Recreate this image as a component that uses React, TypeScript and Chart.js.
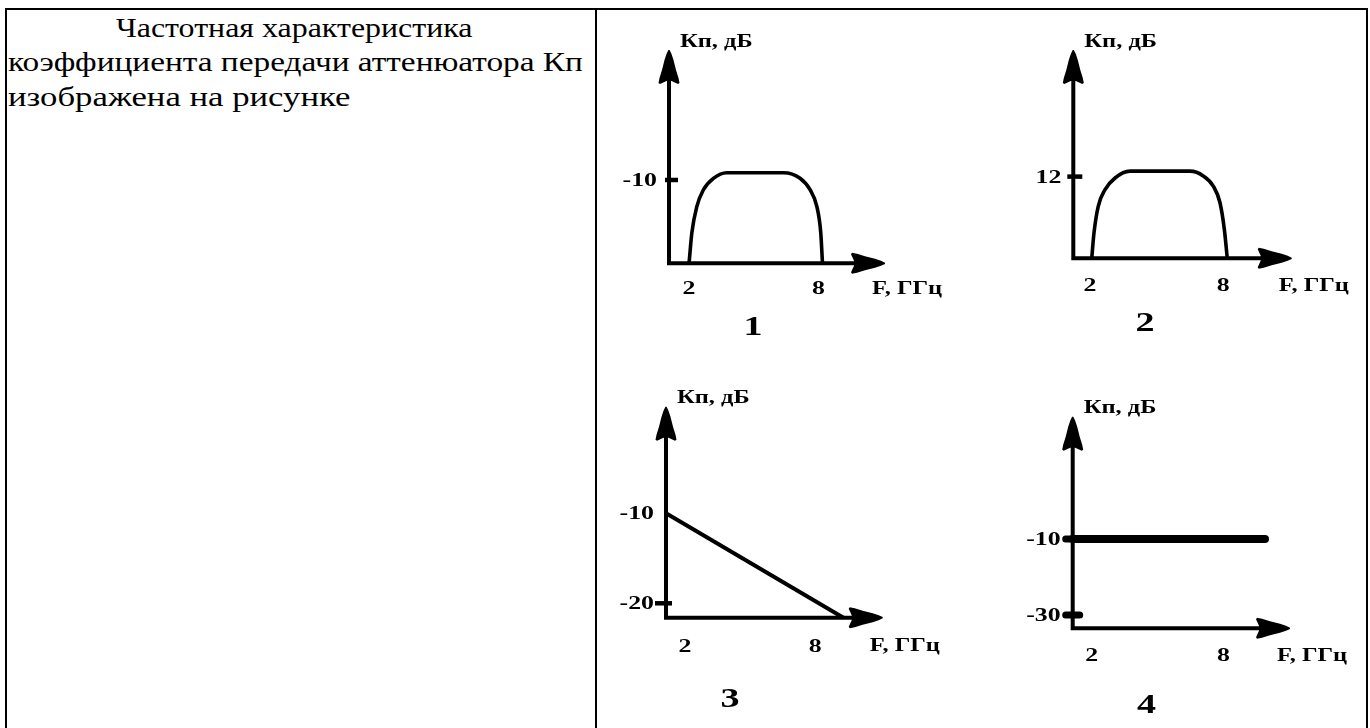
import React, { useEffect, useRef } from "react";
import { Chart, registerables } from "chart.js";

Chart.register(...registerables);

const SERIF = '"Liberation Serif", "Times New Roman", Times, serif';

// ---------- data ----------
const questionLines = [
  "Частотная характеристика",
  "коэффициента передачи аттенюатора Кп",
  "изображена на рисунке",
];
const yAxisTitle = "Кп, дБ";
const xAxisTitle = "F, ГГц";
const xTickValues = [2, 8];
const xTickLabels = ["2", "8"];
const panelNumbers = ["1", "2", "3", "4"];

// Panel 1: band-pass curve, plateau a bit above -10 dB
const p1X = [2, 2.13, 2.36, 2.66, 3.13, 3.75, 6.38, 7.15, 7.62, 7.93, 8.11, 8.19];
const p1Y = [-30, -22.7, -16.4, -12.4, -9.6, -8.25, -8.25, -9.6, -12.4, -16.4, -22.7, -30];
const p1YTicks = [-10];
const p1YTickLabels = ["-10"];

// Panel 2: band-pass curve, plateau a bit above 12 dB
const p2X = [2.08, 2.18, 2.37, 2.68, 3.13, 3.8, 6.5, 7.1, 7.55, 7.85, 8.05, 8.18];
const p2Y = [0, 3.7, 7.6, 10.1, 11.8, 12.8, 12.8, 12.1, 10.6, 8.2, 4.2, 0];
const p2YTicks = [12];
const p2YTickLabels = ["12"];

// Panel 3: falling straight line
const p3X = [1.12, 9.31];
const p3Y = [-10, -21.6];
const p3YTicks = [-10, -20];
const p3YTickLabels = ["-10", "-20"];

// Panel 4: flat line at -10 dB
const p4X = [1.13, 9.9];
const p4Y = [-10, -10];
const p4YTicks = [-10, -30];
const p4YTickLabels = ["-10", "-30"];

// ---------- panel configs (layout / styles) ----------
type Mark = null | { l: number; r: number; w: number; round: boolean };
type PanelCfg = {
  box: { x: number; y: number; w: number; h: number };
  area: { l: number; t: number; r: number; b: number };
  xMin: number; xMax: number; yMin: number; yMax: number;
  xs: number[]; ys: number[];
  yTicks: number[]; yTickLabels: string[]; marks: Mark[];
  lineWidth: number; smooth: boolean; roundCap: boolean;
  caption: string; captionX: number; captionDy: number;
  xLabelDy: number;
};

const TEXT_SX = 1.36; // horizontal stretch of the drawing's lettering

const panels: PanelCfg[] = [
  {
    box: { x: 600, y: 15, w: 390, h: 340 },
    area: { l: 669, t: 50, r: 885, b: 263.3 },
    xMin: 1.07, xMax: 11.09, yMin: -30, yMax: 21.2,
    xs: p1X, ys: p1Y,
    yTicks: p1YTicks, yTickLabels: p1YTickLabels,
    marks: [{ l: 4, r: 9, w: 4.5, round: false }],
    lineWidth: 3.6, smooth: true, roundCap: false,
    caption: panelNumbers[0], captionX: 4.97, captionDy: 64,
    xLabelDy: 26,
  },
  {
    box: { x: 1000, y: 15, w: 365, h: 340 },
    area: { l: 1073.3, t: 50, r: 1291.7, b: 258.3 },
    xMin: 1.25, xMax: 11.08, yMin: 0, yMax: 30.6,
    xs: p2X, ys: p2Y,
    yTicks: p2YTicks, yTickLabels: p2YTickLabels,
    marks: [{ l: 6, r: 9, w: 4.5, round: false }],
    lineWidth: 3.6, smooth: true, roundCap: false,
    caption: panelNumbers[1], captionX: 4.48, captionDy: 65,
    xLabelDy: 28,
  },
  {
    box: { x: 600, y: 370, w: 390, h: 355 },
    area: { l: 666, t: 406.7, r: 882.7, b: 617.7 },
    xMin: 1.12, xMax: 11.12, yMin: -21.6, yMax: 1.84,
    xs: p3X, ys: p3Y,
    yTicks: p3YTicks, yTickLabels: p3YTickLabels,
    marks: [null, { l: 11, r: 6, w: 4.5, round: false }],
    lineWidth: 4, smooth: false, roundCap: false,
    caption: panelNumbers[2], captionX: 4.08, captionDy: 82,
    xLabelDy: 29,
  },
  {
    box: { x: 1000, y: 370, w: 365, h: 355 },
    area: { l: 1072.7, t: 416.7, r: 1290, b: 628.3 },
    xMin: 1.13, xMax: 11.04, yMin: -33.5, yMax: 22.2,
    xs: p4X, ys: p4Y,
    yTicks: p4YTicks, yTickLabels: p4YTickLabels,
    marks: [{ l: 7, r: 2, w: 7, round: true }, { l: 7, r: 7, w: 7, round: true }],
    lineWidth: 8, smooth: false, roundCap: true,
    caption: panelNumbers[3], captionX: 4.5, captionDy: 77,
    xLabelDy: 28,
  },
];

// arrowhead outline: [distance back from tip, half-width]
const ARROW: [number, number][] = [
  [0, 0.6], [4, 2.5], [10, 4.5], [20, 7], [28, 9.5], [33, 10.5], [34, 9], [31, 2.5],
  [31, -2.5], [34, -9], [33, -10.5], [28, -9.5], [20, -7], [10, -4.5], [4, -2.5], [0, -0.6],
];

function drawArrow(ctx: CanvasRenderingContext2D, tx: number, ty: number, dir: "up" | "right") {
  ctx.beginPath();
  ARROW.forEach(([d, w], i) => {
    const px = dir === "up" ? tx + w : tx - d;
    const py = dir === "up" ? ty + d : ty + w;
    if (i === 0) ctx.moveTo(px, py);
    else ctx.lineTo(px, py);
  });
  ctx.closePath();
  ctx.fill();
}

function stretchText(
  ctx: CanvasRenderingContext2D,
  text: string,
  x: number,
  y: number,
  align: CanvasTextAlign
) {
  ctx.save();
  ctx.translate(x, y);
  ctx.scale(TEXT_SX, 1);
  ctx.textAlign = align;
  ctx.fillText(text, 0, 0);
  ctx.restore();
}

function makeAxesPlugin(cfg: PanelCfg) {
  return {
    id: "schematicAxes",
    afterDatasetsDraw(chart: any) {
      const { ctx, chartArea: a, scales } = chart;
      const xs = scales.x;
      const ys = scales.y;
      ctx.save();
      ctx.strokeStyle = "#000";
      ctx.fillStyle = "#000";
      ctx.lineWidth = 4;
      ctx.lineCap = "butt";
      // axis lines
      ctx.beginPath();
      ctx.moveTo(a.left, a.bottom + 2);
      ctx.lineTo(a.left, a.top + 30);
      ctx.moveTo(a.left - 2, a.bottom);
      ctx.lineTo(a.right - 30, a.bottom);
      ctx.stroke();
      drawArrow(ctx, a.left, a.top, "up");
      drawArrow(ctx, a.right, a.bottom, "right");

      // y tick marks + labels
      ctx.font = `bold 19px ${SERIF}`;
      ctx.textBaseline = "middle";
      cfg.yTicks.forEach((v, i) => {
        const py = ys.getPixelForValue(v);
        const m = cfg.marks[i];
        if (m) {
          ctx.lineWidth = m.w;
          ctx.lineCap = m.round ? "round" : "butt";
          ctx.beginPath();
          ctx.moveTo(a.left - m.l, py);
          ctx.lineTo(a.left + m.r, py);
          ctx.stroke();
        }
        stretchText(ctx, cfg.yTickLabels[i], a.left - 12, py + 1, "right");
      });

      // x tick labels
      xTickValues.forEach((v, i) => {
        stretchText(ctx, xTickLabels[i], xs.getPixelForValue(v), a.bottom + cfg.xLabelDy, "center");
      });

      // axis titles
      ctx.font = `bold 18px ${SERIF}`;
      stretchText(ctx, xAxisTitle, a.right - 13, a.bottom + cfg.xLabelDy, "left");
      stretchText(ctx, yAxisTitle, a.left + 11, a.top - 8, "left");

      // panel number
      ctx.font = `bold 28px ${SERIF}`;
      stretchText(ctx, cfg.caption, xs.getPixelForValue(cfg.captionX), a.bottom + cfg.captionDy, "center");
      ctx.restore();
    },
  };
}

function Panel({ cfg }: { cfg: PanelCfg }) {
  const ref = useRef<HTMLCanvasElement>(null);
  useEffect(() => {
    const canvas = ref.current;
    if (!canvas) return;
    const { box, area } = cfg;
    const chart = new Chart(canvas, {
      type: "line",
      data: {
        datasets: [
          {
            data: cfg.xs.map((x, i) => ({ x, y: cfg.ys[i] })),
            borderColor: "#000",
            borderWidth: cfg.lineWidth,
            pointRadius: 0,
            fill: false,
            tension: cfg.smooth ? 0.4 : 0,
            cubicInterpolationMode: cfg.smooth ? "monotone" : "default",
            borderCapStyle: cfg.roundCap ? "round" : "butt",
            borderJoinStyle: "round",
            clip: false as any,
          },
        ],
      },
      options: {
        responsive: false,
        maintainAspectRatio: false,
        animation: false,
        events: [],
        layout: {
          padding: {
            left: area.l - box.x,
            top: area.t - box.y,
            right: box.x + box.w - area.r,
            bottom: box.y + box.h - area.b,
          },
        },
        scales: {
          x: { type: "linear", display: false, min: cfg.xMin, max: cfg.xMax },
          y: { type: "linear", display: false, min: cfg.yMin, max: cfg.yMax },
        },
        plugins: {
          legend: { display: false },
          tooltip: { enabled: false },
          title: { display: false },
        },
      },
      plugins: [makeAxesPlugin(cfg)],
    } as any);
    return () => chart.destroy();
  }, [cfg]);
  return (
    <canvas
      ref={ref}
      width={cfg.box.w}
      height={cfg.box.h}
      style={{ position: "absolute", left: cfg.box.x, top: cfg.box.y, width: cfg.box.w, height: cfg.box.h }}
    />
  );
}

const lineStyle: React.CSSProperties = {
  position: "absolute",
  whiteSpace: "nowrap",
  transformOrigin: "0 0",
};

export default function App() {
  return (
    <div
      style={{
        position: "absolute",
        left: 0,
        top: 0,
        width: 1370,
        height: 728,
        overflow: "hidden",
        background: "#fff",
      }}
    >
      {/* table frame */}
      <div
        style={{
          position: "absolute",
          left: 5,
          top: 8,
          width: 1359,
          height: 760,
          borderLeft: "2px solid #000",
          borderRight: "2px solid #000",
          borderTop: "2px solid #000",
        }}
      />
      <div style={{ position: "absolute", left: 595, top: 8, width: 2, height: 760, background: "#000" }} />
      {/* question text */}
      <div
        style={{
          position: "absolute",
          left: 0,
          top: 10.5,
          width: 590,
          height: 120,
          fontFamily: SERIF,
          fontSize: 28,
          lineHeight: "34.5px",
          color: "#000",
        }}
      >
        <div style={{ ...lineStyle, left: 116, top: 0, transform: "scaleX(1.14)" }}>{questionLines[0]}</div>
        <div style={{ ...lineStyle, left: 8, top: 34.5, transform: "scaleX(1.19)" }}>{questionLines[1]}</div>
        <div style={{ ...lineStyle, left: 8, top: 69, transform: "scaleX(1.24)" }}>{questionLines[2]}</div>
      </div>
      {panels.map((p, i) => (
        <Panel key={i} cfg={p} />
      ))}
    </div>
  );
}
